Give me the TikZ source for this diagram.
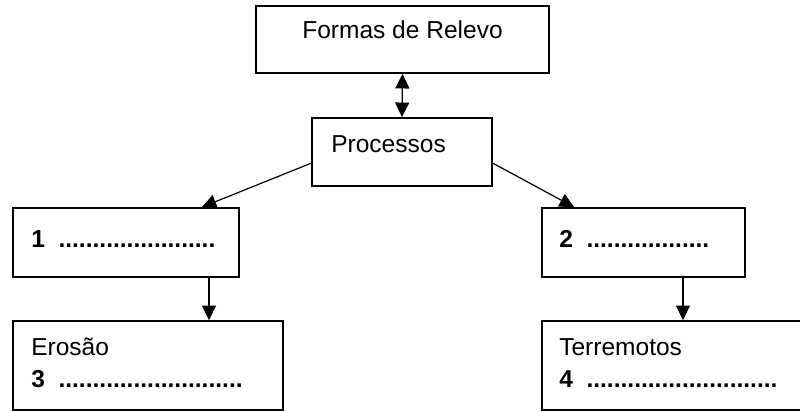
\documentclass[tikz,border=0pt]{standalone}
\usepackage{fontspec}
\setmainfont{Liberation Sans}
\usetikzlibrary{arrows.meta,fit}

\begin{document}
\begin{tikzpicture}
    [
        x = 0.75pt, y = -0.75pt,
        font = \fontsize{18.4}{22}\selectfont,
        box/.style = {draw, line width = 1.2pt, inner sep = 0pt},
        txt/.style = {inner sep = 0pt, anchor = base west},
        arr/.style = {-{Triangle[length = 11pt, width = 10.5pt]}, line width = 0.9pt},
        darr/.style = {{Triangle[length = 11pt, width = 10.5pt]}-{Triangle[length = 11pt, width = 10.5pt]}, line width = 0.9pt}
    ]
        \useasboundingbox (0,0) rectangle (800,411);

        % boxes
        \node[box, fit = {(256,6) (549,73)}] (Relevo) {};
        \node[box, fit = {(312,118) (492,186)}] (Proc) {};
        \node[box, fit = {(13,208) (239,277)}] (One) {};
        \node[box, fit = {(542,208) (745,277)}] (Two) {};
        \node[box, fit = {(13,321) (283,410)}] (Three) {};
        \node[box, fit = {(542,321) (815,410)}] (Four) {};

        % texts
        \node[inner sep = 0pt, anchor = base] (RelevoTxt) at (402.5,38) {Formas de Relevo};
        \node[txt] (ProcTxt) at (331,152) {Processos};
        \node[txt] (OneTxt) at (31,247) {\textbf{1\ \ .......................}};
        \node[txt] (TwoTxt) at (559,247) {\textbf{2\ \ ..................}};
        \node[txt] (EroTxt) at (31,355) {Erosão};
        \node[txt] (ThreeTxt) at (31,387) {\textbf{3\ \ ...........................}};
        \node[txt] (TerTxt) at (559,355) {Terremotos};
        \node[txt] (FourTxt) at (559,387) {\textbf{4\ \ ............................}};

        % connectors
        \coordinate (DownL) at (209,0);
        \coordinate (DownR) at (683,0);
        \draw[darr] (Relevo.south) -- (Proc.north);
        \draw[arr] (Proc.187) -- (One.25);
        \draw[arr] (Proc.-7) -- (Two.153);
        \draw[arr] (One.south -| DownL) -- (Three.north -| DownL);
        \draw[arr] (Two.south -| DownR) -- (Four.north -| DownR);
\end{tikzpicture}
\end{document}
